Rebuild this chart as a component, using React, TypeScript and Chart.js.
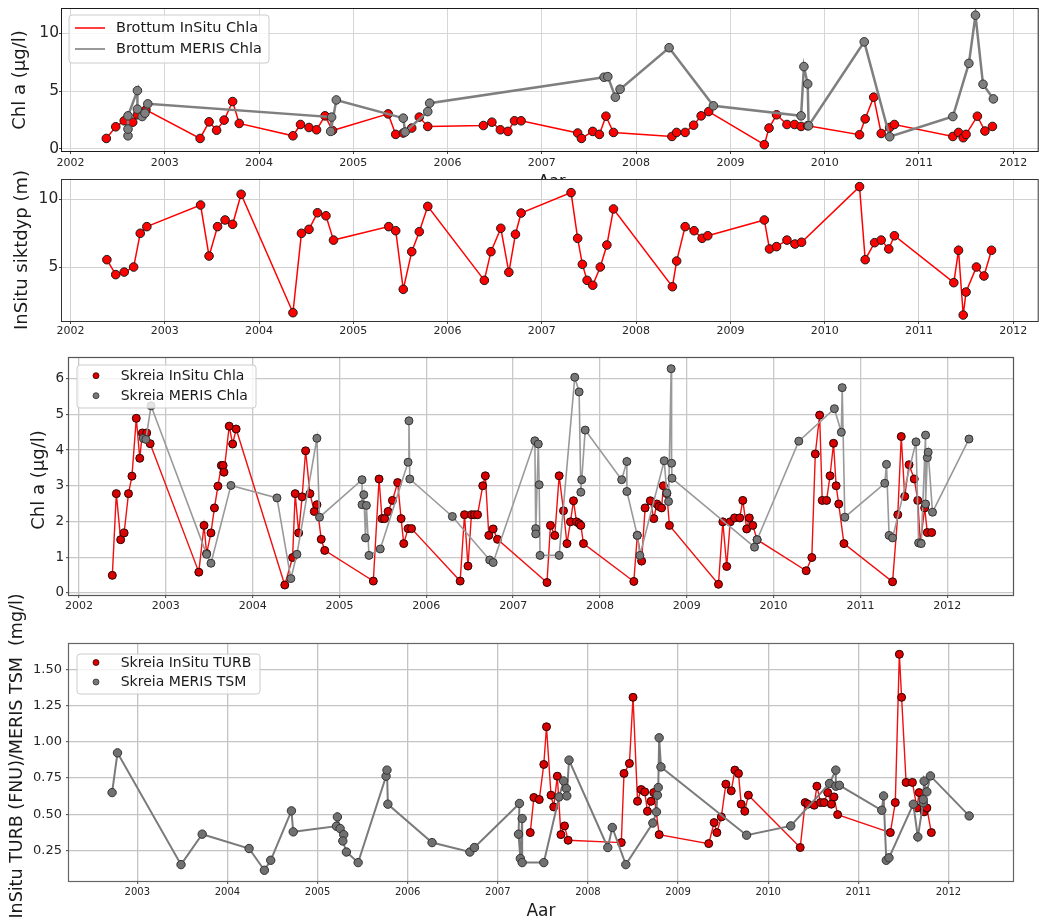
import React, { useEffect, useRef } from "react";
import { Chart, registerables } from "chart.js";

Chart.register(...registerables);
Chart.defaults.font.family = '"DejaVu Sans", sans-serif';

// ---------------- Brottum Chl a ----------------
const brottumInSituChlaYears = [
  2002.38, 2002.48, 2002.57, 2002.66, 2002.71, 2002.8,
  2003.375, 2003.47, 2003.55, 2003.63, 2003.72, 2003.79,
  2004.36, 2004.44, 2004.53, 2004.61, 2004.7, 2004.78,
  2005.37, 2005.45, 2005.53, 2005.62, 2005.7, 2005.79,
  2006.38, 2006.47, 2006.56, 2006.64, 2006.71, 2006.78,
  2007.38, 2007.42, 2007.54, 2007.61, 2007.68, 2007.76,
  2008.38, 2008.43, 2008.52, 2008.61, 2008.69, 2008.77,
  2009.36, 2009.41, 2009.49, 2009.6, 2009.68, 2009.75, 2009.82,
  2010.37, 2010.43, 2010.52, 2010.6, 2010.69, 2010.74,
  2011.36, 2011.42, 2011.47, 2011.5, 2011.62, 2011.7, 2011.78,
];
const brottumInSituChlaValues = [
  0.89, 1.9, 2.42, 2.3, 2.94, 3.37,
  0.89, 2.33, 1.6, 2.48, 4.09, 2.19,
  1.12, 2.1, 1.84, 1.64, 2.85, 1.58,
  3.02, 1.24, 1.36, 1.79, 2.74, 1.93,
  2.01, 2.3, 1.64, 1.5, 2.42, 2.42,
  1.36, 0.89, 1.5, 1.24, 2.82, 1.41,
  1.06, 1.41, 1.41, 2.04, 2.85, 3.22,
  0.35, 1.79, 2.94, 2.1, 2.1, 1.93, 1.99,
  1.21, 2.59, 4.47, 1.32, 1.84, 2.1,
  1.06, 1.41, 0.95, 1.24, 2.82, 1.53, 1.93,
];
const brottumMerisChlaYears = [
  2002.61, 2002.61, 2002.61, 2002.71, 2002.71, 2002.76, 2002.79, 2002.82,
  2004.77, 2004.76, 2004.82,
  2005.53, 2005.55, 2005.79, 2005.81,
  2007.66, 2007.7, 2007.78, 2007.83,
  2008.35, 2008.82,
  2009.75, 2009.78, 2009.82, 2009.83,
  2010.42, 2010.69,
  2011.36, 2011.53, 2011.6, 2011.68, 2011.79,
];
const brottumMerisChlaValues = [
  1.12, 1.7, 2.85, 5.04, 3.43, 2.79, 3.08, 3.89,
  2.74, 1.5, 4.23,
  2.65, 1.45, 3.22, 3.95,
  6.2, 6.25, 4.47, 5.16,
  8.76, 3.72,
  2.85, 7.12, 5.62, 1.99,
  9.27, 1.04,
  2.79, 7.4, 11.58, 5.59, 4.32,
];

// ---------------- Brottum siktdyp ----------------
const brottumSiktdypYears = [
  2002.386, 2002.48, 2002.57, 2002.67, 2002.74, 2002.81,
  2003.38, 2003.47, 2003.56, 2003.64, 2003.72, 2003.81,
  2004.36, 2004.45, 2004.53, 2004.62, 2004.71, 2004.79,
  2005.376, 2005.45, 2005.53, 2005.62, 2005.7, 2005.79,
  2006.39, 2006.46, 2006.565, 2006.65, 2006.72, 2006.78,
  2007.31, 2007.38, 2007.43, 2007.48, 2007.54, 2007.62, 2007.69, 2007.76,
  2008.385, 2008.43, 2008.52, 2008.615, 2008.7, 2008.76,
  2009.36, 2009.415, 2009.49, 2009.6, 2009.685, 2009.755,
  2010.37, 2010.43, 2010.53, 2010.6, 2010.68, 2010.74,
  2011.37, 2011.42, 2011.47, 2011.5, 2011.61, 2011.69, 2011.77,
];
const brottumSiktdypValues = [
  5.56, 4.46, 4.65, 5.02, 7.5, 7.99,
  9.58, 5.83, 7.99, 8.48, 8.16, 10.37,
  1.66, 7.5, 7.79, 9.01, 8.79, 7.0,
  7.99, 7.69, 3.38, 6.15, 7.62, 9.48,
  4.04, 6.15, 7.87, 4.63, 7.43, 8.99,
  10.49, 7.13, 5.22, 4.04, 3.68, 5.02, 6.64, 9.29,
  3.57, 5.46, 7.99, 7.69, 7.13, 7.32,
  8.48, 6.35, 6.52, 7.0, 6.71, 6.84,
  10.93, 5.56, 6.81, 7.0, 6.35, 7.32,
  3.87, 6.25, 1.49, 3.18, 5.02, 4.36, 6.25,
];

// ---------------- Skreia Chl a ----------------
const skreiaInSituChlaYears = [
  2002.384, 2002.43, 2002.48, 2002.52, 2002.57, 2002.61, 2002.66, 2002.7, 2002.73, 2002.78, 2002.82,
  2003.38, 2003.44, 2003.47, 2003.52, 2003.56, 2003.6, 2003.64, 2003.66, 2003.67, 2003.73, 2003.77, 2003.81,
  2004.37, 2004.46, 2004.49, 2004.53, 2004.57, 2004.61, 2004.66, 2004.71, 2004.74, 2004.79, 2004.83,
  2005.39, 2005.456, 2005.49, 2005.52, 2005.56, 2005.61, 2005.67, 2005.71, 2005.74, 2005.79, 2005.83,
  2006.39, 2006.44, 2006.48, 2006.52, 2006.555, 2006.59, 2006.65, 2006.68, 2006.72, 2006.77, 2006.82,
  2007.39, 2007.43, 2007.48, 2007.53, 2007.58, 2007.62, 2007.66, 2007.695, 2007.73, 2007.76, 2007.78, 2007.81,
  2008.39, 2008.43, 2008.48, 2008.52, 2008.58, 2008.62, 2008.655, 2008.68, 2008.71, 2008.73, 2008.77, 2008.8,
  2009.365, 2009.415, 2009.46, 2009.5, 2009.55, 2009.61, 2009.645, 2009.69, 2009.72, 2009.76, 2009.81,
  2010.375, 2010.44, 2010.48, 2010.53, 2010.56, 2010.61, 2010.65, 2010.69, 2010.72, 2010.75, 2010.81,
  2011.37, 2011.43, 2011.47, 2011.51, 2011.56, 2011.62, 2011.66, 2011.69, 2011.74, 2011.77, 2011.82,
];
const skreiaInSituChlaValues = [
  0.49, 2.78, 1.49, 1.68, 2.78, 3.27, 4.89, 3.77, 4.48, 4.48, 4.18,
  0.58, 1.89, 1.1, 1.68, 2.38, 2.99, 3.57, 3.57, 3.38, 4.67, 4.17, 4.59,
  0.22, 0.99, 2.78, 1.68, 2.69, 3.98, 2.78, 2.28, 2.47, 1.5, 1.19,
  0.33, 3.19, 2.08, 2.08, 2.28, 2.59, 3.09, 2.08, 1.38, 1.8, 1.8,
  0.33, 2.19, 0.75, 2.19, 2.19, 2.19, 3.0, 3.28, 1.61, 1.79, 1.5,
  0.29, 1.89, 1.61, 3.28, 2.3, 1.38, 1.99, 2.58, 1.99, 1.94, 1.89, 1.38,
  0.32, 1.61, 0.89, 2.38, 2.58, 2.08, 2.49, 2.42, 2.38, 3.0, 2.78, 1.89,
  0.24, 1.99, 0.74, 1.99, 2.1, 2.1, 2.59, 1.79, 2.1, 1.89, 1.49,
  0.62, 0.99, 3.89, 4.98, 2.59, 2.59, 3.28, 4.19, 3.0, 2.49, 1.38,
  0.31, 2.19, 4.38, 2.7, 3.59, 3.19, 2.59, 1.4, 2.38, 1.69, 1.69,
];
const skreiaMerisChlaYears = [
  2002.74, 2002.77, 2002.83,
  2003.47, 2003.52, 2003.75,
  2004.28, 2004.44, 2004.51, 2004.74, 2004.77,
  2005.26, 2005.26, 2005.28, 2005.3, 2005.31, 2005.34, 2005.47, 2005.79, 2005.8, 2005.81,
  2006.3, 2006.73, 2006.77,
  2007.25, 2007.26, 2007.26, 2007.29, 2007.3, 2007.31, 2007.53, 2007.71, 2007.76, 2007.78, 2007.79, 2007.83,
  2008.25, 2008.31, 2008.31, 2008.43, 2008.46, 2008.74, 2008.77, 2008.79, 2008.82, 2008.825, 2008.83,
  2009.78, 2009.81,
  2010.29, 2010.7, 2010.78, 2010.79, 2010.82,
  2011.28, 2011.3, 2011.33, 2011.37, 2011.64, 2011.67, 2011.7, 2011.75, 2011.75, 2011.77, 2011.78, 2011.83,
  2012.25,
];
const skreiaMerisChlaValues = [
  4.33, 4.3, 5.24,
  1.08, 0.83, 3.01,
  2.66, 0.4, 1.08, 4.33, 2.12,
  3.17, 2.47, 2.75, 1.54, 2.45, 1.05, 1.23, 3.66, 4.82, 3.19,
  2.14, 0.92, 0.85,
  4.26, 1.8, 1.65, 4.17, 3.03, 1.05, 1.05, 6.04, 5.63, 2.82, 3.17, 4.56,
  3.17, 3.68, 2.84, 1.61, 1.05, 3.7, 2.8, 2.56, 6.28, 3.63, 3.21,
  1.28, 1.49,
  4.25, 5.16, 4.5, 5.75, 2.12,
  3.07, 3.6, 1.61, 1.54, 4.23, 1.4, 1.38, 4.42, 2.49, 3.79, 3.94, 2.26,
  4.31,
];

// ---------------- Skreia TURB / TSM ----------------
const skreiaInSituTurbYears = [
  2007.36, 2007.4, 2007.46, 2007.51, 2007.54, 2007.59, 2007.62, 2007.66, 2007.7, 2007.74, 2007.78,
  2008.37, 2008.4, 2008.46, 2008.5, 2008.55, 2008.59, 2008.63, 2008.66, 2008.7, 2008.73, 2008.79,
  2009.34, 2009.4, 2009.43, 2009.48, 2009.53, 2009.59, 2009.63, 2009.67, 2009.7, 2009.74, 2009.78,
  2010.355, 2010.41, 2010.44, 2010.51, 2010.54, 2010.58, 2010.62, 2010.66, 2010.7, 2010.73, 2010.77,
  2011.355, 2011.41, 2011.455, 2011.48, 2011.53, 2011.6, 2011.65, 2011.675, 2011.73, 2011.76, 2011.81,
];
const skreiaInSituTurbValues = [
  0.374, 0.616, 0.602, 0.844, 1.104, 0.632, 0.551, 0.763, 0.36, 0.42, 0.321,
  0.305, 0.782, 0.851, 1.307, 0.59, 0.671, 0.655, 0.521, 0.59, 0.65, 0.36,
  0.298, 0.443, 0.374, 0.482, 0.708, 0.662, 0.805, 0.782, 0.57, 0.521, 0.632,
  0.271, 0.581, 0.57, 0.563, 0.694, 0.581, 0.581, 0.65, 0.57, 0.62, 0.498,
  0.374, 0.581, 1.604, 1.307, 0.72, 0.72, 0.544, 0.65, 0.517, 0.544, 0.374,
];
const skreiaMerisTsmYears = [
  2002.72, 2002.78, 2003.485, 2003.72,
  2004.24, 2004.41, 2004.48, 2004.71, 2004.73,
  2005.21, 2005.22, 2005.25, 2005.29, 2005.28, 2005.32, 2005.45, 2005.76, 2005.77, 2005.78,
  2006.27, 2006.69, 2006.74,
  2007.24, 2007.23, 2007.25, 2007.27, 2007.27, 2007.51, 2007.68, 2007.73, 2007.76, 2007.765, 2007.79,
  2008.22, 2008.27, 2008.42, 2008.72, 2008.76, 2008.77, 2008.78, 2008.79, 2008.81,
  2009.76, 2010.25, 2010.68, 2010.75, 2010.75, 2010.79,
  2011.26, 2011.28, 2011.31, 2011.34, 2011.61, 2011.66, 2011.72, 2011.72, 2011.73, 2011.76, 2011.8,
  2012.23,
];
const skreiaMerisTsmValues = [
  0.65, 0.924, 0.153, 0.363,
  0.264, 0.114, 0.183, 0.524, 0.379,
  0.418, 0.482, 0.402, 0.36, 0.316, 0.24, 0.167, 0.763, 0.805, 0.57,
  0.305, 0.24, 0.271,
  0.575, 0.363, 0.195, 0.471, 0.167, 0.167, 0.62, 0.73, 0.678, 0.627, 0.874,
  0.271, 0.409, 0.153, 0.44, 0.517, 0.632, 0.685, 1.028, 0.827,
  0.356, 0.42, 0.713, 0.805, 0.694, 0.7,
  0.528, 0.627, 0.183, 0.2, 0.57, 0.344, 0.579, 0.602, 0.729, 0.655, 0.765,
  0.489,
];

// ---------------- tick labels ----------------
const yearTicksFull = [2002, 2003, 2004, 2005, 2006, 2007, 2008, 2009, 2010, 2011, 2012];
const yearTicksTurb = [2003, 2004, 2005, 2006, 2007, 2008, 2009, 2010, 2011, 2012];
const brottumChlaTicks = [0, 5, 10];
const siktdypTicks = [5, 10];
const skreiaChlaTicks = [0, 1, 2, 3, 4, 5, 6];
const turbTicks = [0.25, 0.5, 0.75, 1.0, 1.25, 1.5];

const pts = (xs: number[], ys: number[]) => xs.map((x, i) => ({ x, y: ys[i] }));

const RED = "#ff0000";
const GREY = "#7f7f7f";

const decorPlugin = {
  id: "decor",
  beforeDraw(chart: any, _a: any, o: any) {
    const { ctx, chartArea: a } = chart;
    ctx.save();
    ctx.fillStyle = "#ffffff";
    ctx.fillRect(a.left, a.top, a.right - a.left, a.bottom - a.top);
    ctx.restore();
  },
  afterDraw(chart: any, _a: any, o: any) {
    const { ctx, chartArea: a } = chart;
    ctx.save();
    ctx.strokeStyle = o.frameColor;
    ctx.lineWidth = o.frameWidth;
    ctx.strokeRect(a.left - 0.5, a.top - 0.5, a.right - a.left + 1, a.bottom - a.top + 1);
    const lg = o.legend;
    if (lg) {
      ctx.beginPath();
      const r = 3;
      const { x, y, w, h } = lg.box;
      ctx.moveTo(x + r, y);
      ctx.lineTo(x + w - r, y);
      ctx.quadraticCurveTo(x + w, y, x + w, y + r);
      ctx.lineTo(x + w, y + h - r);
      ctx.quadraticCurveTo(x + w, y + h, x + w - r, y + h);
      ctx.lineTo(x + r, y + h);
      ctx.quadraticCurveTo(x, y + h, x, y + h - r);
      ctx.lineTo(x, y + r);
      ctx.quadraticCurveTo(x, y, x + r, y);
      ctx.closePath();
      ctx.fillStyle = "rgba(255,255,255,0.8)";
      ctx.fill();
      ctx.strokeStyle = "#cccccc";
      ctx.lineWidth = 1;
      ctx.stroke();
      lg.items.forEach((it: any, i: number) => {
        const yy = lg.rows[i];
        if (it.kind === "line") {
          ctx.beginPath();
          ctx.moveTo(lg.sx0, yy);
          ctx.lineTo(lg.sx1, yy);
          ctx.strokeStyle = it.color;
          ctx.lineWidth = it.lw;
          ctx.stroke();
        } else {
          ctx.beginPath();
          ctx.arc(lg.mx, yy, it.r, 0, Math.PI * 2);
          ctx.fillStyle = it.color;
          ctx.fill();
          ctx.strokeStyle = it.border;
          ctx.lineWidth = 0.8;
          ctx.stroke();
        }
        ctx.fillStyle = "#1a1a1a";
        ctx.font = `${lg.size}px "DejaVu Sans"`;
        ctx.textAlign = "left";
        ctx.textBaseline = "middle";
        ctx.fillText(it.label, lg.tx, yy + 0.5);
      });
    }
    (o.texts || []).forEach((t: any) => {
      ctx.save();
      ctx.translate(t.x, t.y);
      if (t.rotate) ctx.rotate(-Math.PI / 2);
      ctx.font = `${t.size}px "DejaVu Sans"`;
      ctx.fillStyle = "#1a1a1a";
      ctx.textAlign = "center";
      ctx.textBaseline = t.baseline || "middle";
      ctx.fillText(t.text, 0, 0);
      ctx.restore();
    });
    ctx.restore();
  },
};

interface PanelSpec {
  top: number;
  height: number;
  width: number;
  plot: { left: number; top: number; right: number; bottom: number };
  xMin: number; xMax: number; yMin: number; yMax: number;
  xTicks: number[]; yTicks: number[];
  yFmt: (v: number) => string;
  xTickFont: number; yTickFont: number; xTickPad: number; yTickPad: number;
  gridColor: string; gridWidth: number; frameColor: string; frameWidth: number;
  datasets: any[];
  legend: any;
  texts: any[];
}

function Panel({ spec }: { spec: PanelSpec }) {
  const ref = useRef<HTMLCanvasElement | null>(null);
  useEffect(() => {
    if (!ref.current) return;
    const p = spec.plot;
    const xAxisH = spec.top + spec.height - p.bottom;
    const chart = new Chart(ref.current, {
      type: "line",
      data: { datasets: spec.datasets },
      plugins: [decorPlugin],
      options: {
        animation: false,
        responsive: false,
        maintainAspectRatio: false,
        events: [],
        layout: { padding: { top: p.top - spec.top, right: spec.width - p.right, bottom: 0, left: 0 } },
        plugins: {
          legend: { display: false },
          tooltip: { enabled: false },
          decor: {
            frameColor: spec.frameColor,
            frameWidth: spec.frameWidth,
            legend: spec.legend,
            texts: spec.texts,
          },
        } as any,
        scales: {
          x: {
            type: "linear",
            min: spec.xMin,
            max: spec.xMax,
            afterBuildTicks: (s: any) => { s.ticks = spec.xTicks.map((v) => ({ value: v })); },
            afterFit: (s: any) => { s.height = xAxisH; s.paddingLeft = 0; s.paddingRight = 0; },
            ticks: {
              autoSkip: false,
              maxRotation: 0,
              padding: spec.xTickPad,
              color: "#262626",
              font: { size: spec.xTickFont },
              callback: (v: any) => String(v),
            },
            grid: { color: spec.gridColor, lineWidth: spec.gridWidth, drawTicks: true, tickLength: 3, tickColor: "#444", tickWidth: 1 },
            border: { display: false },
          },
          y: {
            type: "linear",
            min: spec.yMin,
            max: spec.yMax,
            afterBuildTicks: (s: any) => { s.ticks = spec.yTicks.map((v) => ({ value: v })); },
            afterFit: (s: any) => { s.width = p.left; s.paddingTop = 0; s.paddingBottom = 0; },
            ticks: {
              autoSkip: false,
              padding: spec.yTickPad,
              color: "#262626",
              font: { size: spec.yTickFont },
              callback: (v: any) => spec.yFmt(Number(v)),
            },
            grid: { color: spec.gridColor, lineWidth: spec.gridWidth, drawTicks: true, tickLength: 3, tickColor: "#444", tickWidth: 1 },
            border: { display: false },
          },
        },
      } as any,
    });
    return () => chart.destroy();
  }, [spec]);
  return (
    <canvas
      ref={ref}
      width={spec.width}
      height={spec.height}
      style={{ position: "absolute", left: 0, top: spec.top, width: spec.width, height: spec.height }}
    />
  );
}

const lineDs = (label: string, xs: number[], ys: number[], o: any) => ({
  label,
  data: pts(xs, ys),
  borderColor: o.line,
  borderWidth: o.lw,
  pointBackgroundColor: o.fill,
  pointBorderColor: o.edge,
  pointBorderWidth: 1,
  pointRadius: o.r,
  showLine: true,
  tension: 0,
  fill: false,
  order: o.order,
});

const panels: PanelSpec[] = [
  {
    top: 0, height: 190, width: 1043,
    plot: { left: 62, top: 9, right: 1043, bottom: 151 },
    xMin: 2001.91, xMax: 2012.26, yMin: -0.2, yMax: 12.12,
    xTicks: yearTicksFull, yTicks: brottumChlaTicks, yFmt: (v) => String(v),
    xTickFont: 11, yTickFont: 15.5, xTickPad: 2.4, yTickPad: 0,
    gridColor: "#d6d6d6", gridWidth: 1, frameColor: "#1a1a1a", frameWidth: 1,
    datasets: [
      lineDs("Brottum InSitu Chla", brottumInSituChlaYears, brottumInSituChlaValues, { line: RED, lw: 1.5, fill: RED, edge: "#1a1a1a", r: 4.3, order: 1 }),
      lineDs("Brottum MERIS Chla", brottumMerisChlaYears, brottumMerisChlaValues, { line: GREY, lw: 2.5, fill: GREY, edge: "#333", r: 4.3, order: 0 }),
    ],
    legend: {
      box: { x: 69, y: 15, w: 200, h: 48 }, rows: [28, 49], sx0: 75, sx1: 105, tx: 116, size: 14.5,
      items: [
        { kind: "line", label: "Brottum InSitu Chla", color: RED, lw: 1.5 },
        { kind: "line", label: "Brottum MERIS Chla", color: "#999999", lw: 2 },
      ],
    },
    texts: [
      { text: "Chl a (μg/l)", x: 20, y: 80, size: 18, rotate: true },
      { text: "Aar", x: 552, y: 186, size: 16, baseline: "alphabetic" },
    ],
  },
  {
    top: 160, height: 182, width: 1043,
    plot: { left: 62, top: 180, right: 1043, bottom: 321 },
    xMin: 2001.91, xMax: 2012.26, yMin: 1.05, yMax: 11.42,
    xTicks: yearTicksFull, yTicks: siktdypTicks, yFmt: (v) => String(v),
    xTickFont: 11, yTickFont: 15.5, xTickPad: 0.5, yTickPad: 0.7,
    gridColor: "#d0d0d0", gridWidth: 1, frameColor: "#333", frameWidth: 1,
    datasets: [
      lineDs("Brottum InSitu siktdyp", brottumSiktdypYears, brottumSiktdypValues, { line: RED, lw: 1.5, fill: RED, edge: "#1a1a1a", r: 4.3, order: 0 }),
    ],
    legend: null,
    texts: [{ text: "InSitu siktdyp (m)", x: 22, y: 90, size: 18, rotate: true }],
  },
  {
    top: 350, height: 270, width: 1041,
    plot: { left: 69, top: 358, right: 1013, bottom: 595 },
    xMin: 2001.885, xMax: 2012.757, yMin: -0.06, yMax: 6.58,
    xTicks: yearTicksFull, yTicks: skreiaChlaTicks, yFmt: (v) => String(v),
    xTickFont: 11, yTickFont: 13.5, xTickPad: 2, yTickPad: 2,
    gridColor: "#c8c8c8", gridWidth: 1.3, frameColor: "#555", frameWidth: 1.2,
    datasets: [
      lineDs("Skreia InSitu Chla", skreiaInSituChlaYears, skreiaInSituChlaValues, { line: "#f01010", lw: 1.4, fill: "#d80000", edge: "#2a0000", r: 4, order: 1 }),
      lineDs("Skreia MERIS Chla", skreiaMerisChlaYears, skreiaMerisChlaValues, { line: "#999999", lw: 1.6, fill: "#777777", edge: "#333", r: 4, order: 0 }),
    ],
    legend: {
      box: { x: 77, y: 15, w: 179, h: 43 }, rows: [25.7, 45.7], mx: 96, tx: 120.7, size: 14,
      items: [
        { kind: "marker", label: "Skreia InSitu Chla", color: "#d80000", border: "#300", r: 3 },
        { kind: "marker", label: "Skreia MERIS Chla", color: "#777777", border: "#333", r: 3 },
      ],
    },
    texts: [{ text: "Chl a (μg/l)", x: 39, y: 130, size: 18, rotate: true }],
  },
  {
    top: 590, height: 329, width: 1041,
    plot: { left: 69, top: 644, right: 1013, bottom: 881 },
    xMin: 2002.242, xMax: 2012.716, yMin: 0.04, yMax: 1.675,
    xTicks: yearTicksTurb, yTicks: turbTicks, yFmt: (v) => v.toFixed(2),
    xTickFont: 10, yTickFont: 13, xTickPad: 2.8, yTickPad: 4,
    gridColor: "#c4c4c4", gridWidth: 1.3, frameColor: "#666", frameWidth: 1.2,
    datasets: [
      lineDs("Skreia InSitu TURB", skreiaInSituTurbYears, skreiaInSituTurbValues, { line: "#f01010", lw: 1.4, fill: "#d80000", edge: "#2a0000", r: 4, order: 1 }),
      lineDs("Skreia MERIS TSM", skreiaMerisTsmYears, skreiaMerisTsmValues, { line: "#7a7a7a", lw: 2, fill: "#707070", edge: "#333", r: 4.2, order: 0 }),
    ],
    legend: {
      box: { x: 77, y: 64, w: 183, h: 40 }, rows: [72.5, 92], mx: 96, tx: 120.7, size: 14,
      items: [
        { kind: "marker", label: "Skreia InSitu TURB", color: "#d80000", border: "#300", r: 3 },
        { kind: "marker", label: "Skreia MERIS TSM", color: "#777777", border: "#333", r: 3 },
      ],
    },
    texts: [
      { text: "InSitu TURB (FNU)/MERIS TSM  (mg/l)", x: 17, y: 166, size: 17.5, rotate: true },
      { text: "Aar", x: 541, y: 326, size: 17, baseline: "alphabetic" },
    ],
  },
];

export default function App() {
  return (
    <div style={{ position: "absolute", left: 0, top: 0, width: 1041, height: 919, overflow: "hidden", background: "#fff" }}>
      {panels.map((s, i) => (
        <Panel key={i} spec={s} />
      ))}
    </div>
  );
}
